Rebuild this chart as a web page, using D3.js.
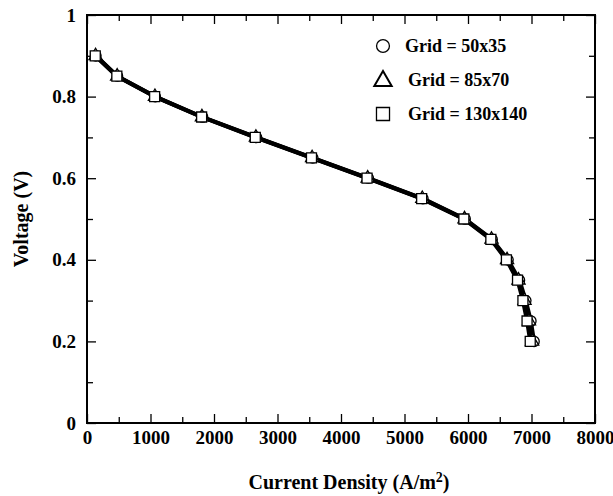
<!DOCTYPE html>
<html>
<head>
<meta charset="utf-8">
<script src="https://cdn.jsdelivr.net/npm/d3@7"></script>
<style>
  body { margin: 0; background: #fff; }
  text { font-family: "Liberation Serif", "Times New Roman", serif; font-weight: bold; fill: #000; }
</style>
</head>
<body>
<svg id="chart" width="613" height="496"></svg>
<script>
// polarisation curve, voltage vs current density for three grids
const voltage = [0.9, 0.85, 0.8, 0.75, 0.7, 0.65, 0.6, 0.55, 0.5, 0.45, 0.4, 0.35, 0.3, 0.25, 0.2]
const grid50x35 = [140, 480, 1075, 1820, 2670, 3555, 4430, 5290, 5955, 6380, 6630, 6810, 6910, 6990, 7040]
const grid85x70 = [135, 475, 1070, 1810, 2660, 3545, 4420, 5280, 5945, 6370, 6615, 6795, 6890, 6960, 7010]
const grid130x140 = [130, 470, 1065, 1805, 2650, 3535, 4410, 5270, 5935, 6360, 6605, 6780, 6865, 6930, 6980]
const seriesNames = ['Grid = 50x35', 'Grid = 85x70', 'Grid = 130x140']
const xTicks = [0, 1000, 2000, 3000, 4000, 5000, 6000, 7000, 8000]
const yTicks = [0, 0.2, 0.4, 0.6, 0.8, 1]

const MARGINS = { top: 15, right: 18, bottom: 73, left: 87 }

const svg = d3.select('#chart')
const width = +svg.attr('width') - MARGINS.left - MARGINS.right
const height = +svg.attr('height') - MARGINS.top - MARGINS.bottom

const scaleX = d3.scaleLinear().domain([0, 8000]).range([0, width])
const scaleY = d3.scaleLinear().domain([0, 1]).range([height, 0])

const g = svg.append('g').attr('transform', 'translate(' + MARGINS.left + ',' + MARGINS.top + ')')

const xMinor = d3.range(500, 8000, 1000)
const yMinor = [0.1, 0.3, 0.5, 0.7, 0.9]

// axes, ticks point inward on all four sides
function styleAxis(sel) {
  sel.select('.domain').remove()
  sel.selectAll('.tick line').attr('stroke', '#000').attr('stroke-width', 1.3)
  sel.selectAll('.tick text').style('font-size', '19px')
}

g.append('g').attr('transform', 'translate(0,' + height + ')')
  .call(d3.axisBottom(scaleX).tickValues(xTicks).tickSize(-9).tickPadding(8).tickFormat(d3.format('d')))
  .call(styleAxis)
g.append('g').attr('transform', 'translate(0,' + height + ')')
  .call(d3.axisBottom(scaleX).tickValues(xMinor).tickSize(-6).tickFormat(''))
  .call(styleAxis)
g.append('g')
  .call(d3.axisTop(scaleX).tickValues(xTicks).tickSize(-9).tickFormat(''))
  .call(styleAxis)
g.append('g')
  .call(d3.axisTop(scaleX).tickValues(xMinor).tickSize(-6).tickFormat(''))
  .call(styleAxis)

g.append('g')
  .call(d3.axisLeft(scaleY).tickValues(yTicks).tickSize(-9).tickPadding(11).tickFormat(d => d === 0 || d === 1 ? d : d3.format('.1f')(d)))
  .call(styleAxis)
g.append('g')
  .call(d3.axisLeft(scaleY).tickValues(yMinor).tickSize(-6).tickFormat(''))
  .call(styleAxis)
g.append('g').attr('transform', 'translate(' + width + ',0)')
  .call(d3.axisRight(scaleY).tickValues(yTicks).tickSize(-9).tickFormat(''))
  .call(styleAxis)
g.append('g').attr('transform', 'translate(' + width + ',0)')
  .call(d3.axisRight(scaleY).tickValues(yMinor).tickSize(-6).tickFormat(''))
  .call(styleAxis)

g.append('rect')
  .attr('width', width)
  .attr('height', height)
  .attr('fill', 'none')
  .attr('stroke', '#000')
  .attr('stroke-width', 2)

// curves
const series = [grid50x35, grid85x70, grid130x140].map((xs, i) => ({
  name: seriesNames[i],
  points: xs.map((x, j) => ({ x: x, v: voltage[j] }))
}))

const line = d3.line().x(d => scaleX(d.x)).y(d => scaleY(d.v))

g.selectAll('.curve')
  .data(series)
  .enter()
  .append('path')
  .attr('class', 'curve')
  .attr('d', d => line(d.points))
  .attr('fill', 'none')
  .attr('stroke', '#000')
  .attr('stroke-width', 4)
  .attr('stroke-linejoin', 'round')

const symbols = [d3.symbolCircle, d3.symbolTriangle, d3.symbolSquare]
const sizes = [85, 75, 100]

series.forEach((s, i) => {
  g.selectAll('.m' + i)
    .data(s.points)
    .enter()
    .append('path')
    .attr('class', 'm' + i)
    .attr('transform', d => 'translate(' + scaleX(d.x) + ',' + scaleY(d.v) + ')')
    .attr('d', d3.symbol().type(symbols[i]).size(sizes[i]))
    .attr('fill', '#fff')
    .attr('stroke', '#000')
    .attr('stroke-width', 1.3)
})

// legend
const legend = svg.append('g').attr('transform', 'translate(383,46)')
const legendSizes = [130, 130, 170]
seriesNames.forEach((name, i) => {
  const row = legend.append('g').attr('transform', 'translate(0,' + i * 34 + ')')
  row.append('path')
    .attr('d', d3.symbol().type(symbols[i]).size(legendSizes[i]))
    .attr('transform', i === 1 ? 'translate(0,1)' : null)
    .attr('fill', '#fff')
    .attr('stroke', '#000')
    .attr('stroke-width', i === 1 ? 2 : 1.3)
  row.append('text')
    .attr('x', i === 0 ? 22 : 25)
    .attr('y', 6)
    .style('font-size', '18px')
    .text(name)
})

// axis titles
svg.append('text')
  .attr('transform', 'translate(' + 28 + ',' + (MARGINS.top + height / 2) + ') rotate(-90)')
  .attr('text-anchor', 'middle')
  .style('font-size', '20px')
  .text('Voltage (V)')

const xt = svg.append('text')
  .attr('x', MARGINS.left + width / 2 + 8)
  .attr('y', 489)
  .attr('text-anchor', 'middle')
  .style('font-size', '20px')
xt.append('tspan').text('Current Density (A/m')
xt.append('tspan').attr('dy', -7).style('font-size', '14px').text('2')
xt.append('tspan').attr('dy', 7).text(')')
</script>
</body>
</html>
